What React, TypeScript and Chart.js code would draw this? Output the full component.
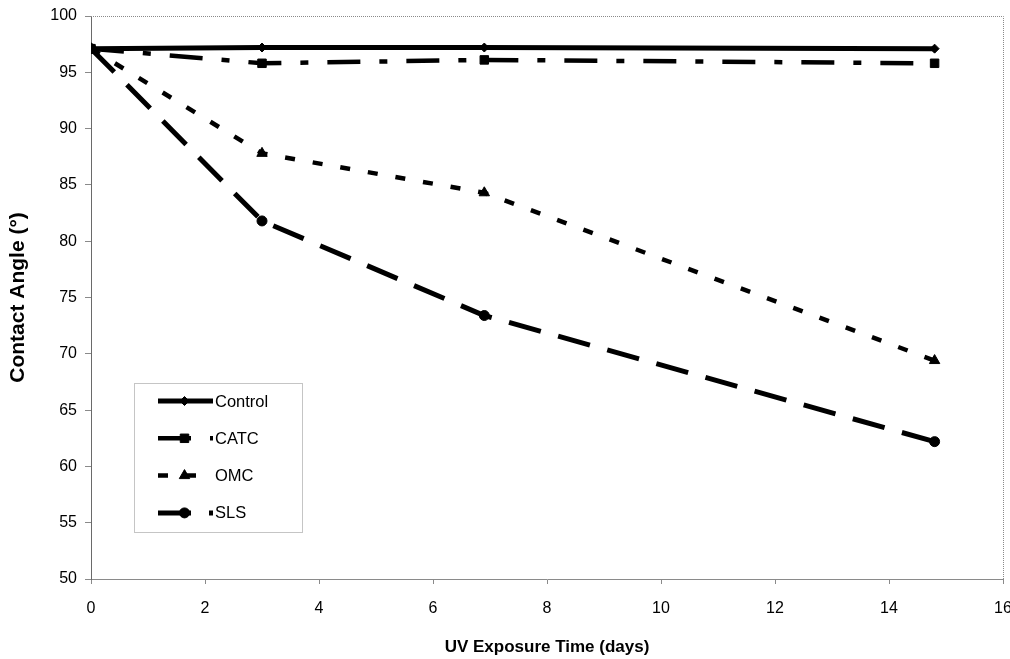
import React, { useEffect, useRef } from 'react';
import { Chart, registerables } from 'chart.js';
import { drawPoint } from 'chart.js/helpers';

Chart.register(...registerables);

// ---- data ----
const days = [0, 3, 6.9, 14.8];
const controlValues = [97.1, 97.2, 97.2, 97.1];
const catcValues = [97.1, 95.8, 96.1, 95.8];
const omcValues = [97.1, 87.8, 84.3, 69.4];
const slsValues = [97.1, 81.8, 73.4, 62.2];
const seriesNames = ['Control', 'CATC', 'OMC', 'SLS'];
const xAxisTitle = 'UV Exposure Time (days)';
const yAxisTitle = 'Contact Angle (°)';
const xMin = 0, xMax = 16, xStep = 2;
const yMin = 50, yMax = 100, yStep = 5;

const FONT = "'Liberation Sans', Arial, sans-serif";

const toPoints = (vals: number[]) => vals.map((v, i) => ({ x: days[i], y: v }));

const frameAndLegend = {
  id: 'frameAndLegend',
  beforeDatasetsDraw(chart: any) {
    const { ctx, chartArea: a } = chart;
    ctx.save();
    ctx.strokeStyle = '#8a8a8a';
    ctx.lineWidth = 1;
    ctx.setLineDash([1, 1]);
    ctx.beginPath();
    ctx.moveTo(a.left, a.top + 0.5);
    ctx.lineTo(a.right + 0.5, a.top + 0.5);
    ctx.lineTo(a.right + 0.5, a.bottom);
    ctx.stroke();
    ctx.restore();
  },
  afterDatasetsDraw(chart: any) {
    const { ctx, chartArea: a } = chart;
    const bx = a.left + 43, by = a.top + 367, bw = 168, bh = 149;
    ctx.save();
    ctx.fillStyle = '#ffffff';
    ctx.fillRect(bx, by, bw, bh);
    ctx.strokeStyle = '#8a8a8a';
    ctx.lineWidth = 1;
    ctx.setLineDash([1, 1]);
    ctx.strokeRect(bx + 0.5, by + 0.5, bw, bh);
    ctx.setLineDash([]);
    chart.data.datasets.forEach((ds: any, i: number) => {
      const y = by + 18 + i * 37.3;
      const x0 = bx + 24, x1 = bx + 79;
      ctx.save();
      ctx.strokeStyle = ds.borderColor;
      ctx.lineWidth = ds.borderWidth;
      ctx.lineCap = 'butt';
      ctx.setLineDash(ds.borderDash || []);
      ctx.beginPath();
      ctx.moveTo(x0, y);
      ctx.lineTo(x1, y);
      ctx.stroke();
      ctx.setLineDash([]);
      ctx.fillStyle = ds.pointBackgroundColor;
      ctx.strokeStyle = ds.pointBorderColor;
      ctx.lineWidth = 1;
      drawPoint(ctx, { pointStyle: ds.pointStyle, radius: ds.pointRadius, borderWidth: 1, rotation: 0 }, (x0 + x1) / 2 - 1, y);
      ctx.restore();
      ctx.fillStyle = '#000';
      ctx.font = `16.5px ${FONT}`;
      ctx.textBaseline = 'middle';
      ctx.textAlign = 'left';
      ctx.fillText(ds.label, x1 + 2, y + 1);
    });
    ctx.restore();
  },
};

export default function App() {
  const ref = useRef<HTMLCanvasElement>(null);
  useEffect(() => {
    if (!ref.current) return;
    const mk = (label: string, vals: number[], dash: number[], style: string, r: number, w: number) => ({
      label,
      data: toPoints(vals),
      borderColor: '#000',
      backgroundColor: '#000',
      pointBackgroundColor: '#000',
      pointBorderColor: '#000',
      borderWidth: w,
      borderDash: dash,
      pointStyle: style,
      pointRadius: r,
      pointBorderWidth: 1,
      showLine: true,
      tension: 0,
    });
    const chart = new Chart(ref.current, {
      type: 'scatter',
      data: {
        datasets: [
          mk(seriesNames[0], controlValues, [], 'rectRot', 4.5, 5),
          mk(seriesNames[1], catcValues, [33, 19, 8, 19], 'rect', 6, 4.5),
          mk(seriesNames[2], omcValues, [10, 18], 'triangle', 6, 4.5),
          mk(seriesNames[3], slsValues, [33, 18], 'circle', 5, 5),
        ] as any,
      },
      options: {
        responsive: false,
        animation: false,
        layout: { padding: { top: 16, right: 6, left: 0, bottom: 0 } },
        plugins: { legend: { display: false }, tooltip: { enabled: false } },
        scales: {
          x: {
            type: 'linear',
            min: xMin,
            max: xMax,
            ticks: { stepSize: xStep, color: '#000', font: { family: FONT, size: 16 }, padding: 15, maxRotation: 0 },
            grid: { drawOnChartArea: false, drawTicks: true, tickLength: 5, color: '#8a8a8a' },
            border: { color: '#8a8a8a', width: 1 },
            title: { display: true, text: xAxisTitle, color: '#000', font: { family: FONT, size: 17, weight: 'bold' }, padding: { bottom: 1, top: 0 } },
            afterFit(scale: any) {
              scale.height = 80;
              scale.paddingRight = 0;
              scale.paddingLeft = 0;
            },
          },
          y: {
            type: 'linear',
            min: yMin,
            max: yMax,
            ticks: { stepSize: yStep, color: '#000', font: { family: FONT, size: 16 }, padding: 8 },
            grid: { drawOnChartArea: false, drawTicks: true, tickLength: 6, color: '#8a8a8a' },
            border: { color: '#6a6a6a', width: 1 },
            title: { display: true, text: yAxisTitle, color: '#000', font: { family: FONT, size: 21, weight: 'bold' }, padding: { top: 6, bottom: 0 } },
            afterFit(scale: any) {
              scale.width = 91;
              scale.paddingTop = 0;
              scale.paddingBottom = 0;
            },
          },
        },
      },
      plugins: [frameAndLegend],
    });
    return () => chart.destroy();
  }, []);
  return (
    <div style={{ position: 'fixed', left: 0, top: 0, width: 1010, height: 659, background: '#fff' }}>
      <canvas ref={ref} width={1010} height={659} />
    </div>
  );
}
